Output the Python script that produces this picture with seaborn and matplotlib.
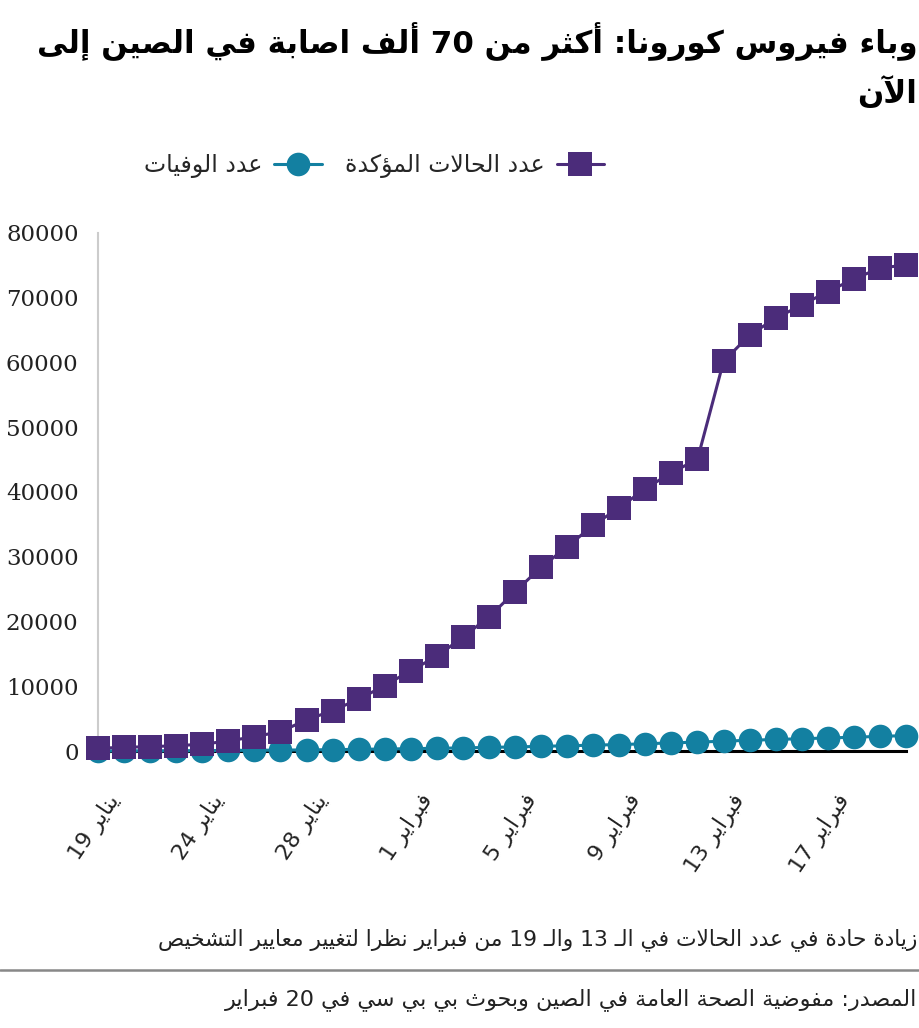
import re
import matplotlib
matplotlib.use('Agg')
import matplotlib.pyplot as plt
import matplotlib.transforms as mtransforms
import seaborn as sns

# ---------- data ----------
days = [19, 21, 22, 23, 24, 25, 26, 27, 28, 29, 30, 31,
        1, 2, 3, 4, 5, 6, 7, 8, 9, 10, 11, 12, 13, 14, 15, 16, 17, 18, 19, 20]
months = ['يناير'] * 12 + ['فبراير'] * 20
confirmed = [420, 570, 670, 820, 1040, 1550, 2210, 2990, 4800, 6240, 8000, 10100,
             12430, 14600, 17600, 20700, 24600, 28380, 31530, 34880, 37570, 40510,
             42990, 45050, 60170, 64240, 66830, 68890, 70940, 72910, 74570, 75080]
deaths = [10, 20, 30, 45, 60, 90, 110, 140, 170, 210, 260, 310,
          360, 420, 480, 560, 630, 720, 810, 900, 1000, 1110, 1260, 1370,
          1520, 1660, 1780, 1900, 2010, 2130, 2260, 2380]
tick_every = 4

label_confirmed = 'عدد الحالات المؤكدة'
label_deaths = 'عدد الوفيات'
title_1 = 'وباء فيروس كورونا: أكثر من 70 ألف اصابة في الصين إلى'
title_2 = 'الآن'
note = 'زيادة حادة في عدد الحالات في الـ 13 والـ 19 من فبراير نظرا لتغيير معايير التشخيص'
source = 'المصدر: مفوضية الصحة العامة في الصين وبحوث بي بي سي في 20 فبراير'

PURPLE = '#4B2C7A'
TEAL = '#1380A1'

# ---------- tiny arabic shaping (matplotlib has no complex text layout) ----------
_table = [
    (0x621, 0xFE80, 1), (0x622, 0xFE81, 2), (0x623, 0xFE83, 2), (0x624, 0xFE85, 2),
    (0x625, 0xFE87, 2), (0x626, 0xFE89, 4), (0x627, 0xFE8D, 2), (0x628, 0xFE8F, 4),
    (0x629, 0xFE93, 2), (0x62A, 0xFE95, 4), (0x62B, 0xFE99, 4), (0x62C, 0xFE9D, 4),
    (0x62D, 0xFEA1, 4), (0x62E, 0xFEA5, 4), (0x62F, 0xFEA9, 2), (0x630, 0xFEAB, 2),
    (0x631, 0xFEAD, 2), (0x632, 0xFEAF, 2), (0x633, 0xFEB1, 4), (0x634, 0xFEB5, 4),
    (0x635, 0xFEB9, 4), (0x636, 0xFEBD, 4), (0x637, 0xFEC1, 4), (0x638, 0xFEC5, 4),
    (0x639, 0xFEC9, 4), (0x63A, 0xFECD, 4), (0x641, 0xFED1, 4), (0x642, 0xFED5, 4),
    (0x643, 0xFED9, 4), (0x644, 0xFEDD, 4), (0x645, 0xFEE1, 4), (0x646, 0xFEE5, 4),
    (0x647, 0xFEE9, 4), (0x648, 0xFEED, 2), (0x649, 0xFEEF, 2), (0x64A, 0xFEF1, 4),
]
FORMS = {chr(c): [chr(s + k) for k in range(n)] for c, s, n in _table}
LAMALEF = {'\u0622': 0xFEF5, '\u0623': 0xFEF7, '\u0625': 0xFEF9, '\u0627': 0xFEFB}
TATWEEL = '\u0640'


def _dual(c):
    return c == TATWEEL or (c in FORMS and len(FORMS[c]) == 4)


def _joinable(c):
    return c == TATWEEL or (c in FORMS and c != '\u0621')


def shape(s):
    out = []
    prev = False
    i = 0
    while i < len(s):
        c = s[i]
        nxt = s[i + 1] if i + 1 < len(s) else ''
        if c == '\u0644' and nxt in LAMALEF:
            out.append(chr(LAMALEF[nxt] + (1 if prev else 0)))
            prev = False
            i += 2
            continue
        if c in FORMS:
            f = FORMS[c]
            fwd = _dual(c) and _joinable(nxt)
            if len(f) == 1:
                g = f[0]
            elif prev and fwd:
                g = f[3]
            elif prev:
                g = f[1]
            elif fwd:
                g = f[2]
            else:
                g = f[0]
            out.append(g)
            prev = _dual(c)
        else:
            out.append(c)
            prev = c == TATWEEL
        i += 1
    return ''.join(out)


def ar(text):
    tokens = re.findall(r'[0-9A-Za-z]+|[^0-9A-Za-z]+', text)
    res = []
    for t in reversed(tokens):
        if t[0].isascii() and t[0].isalnum():
            res.append(t)
        else:
            res.append(shape(t)[::-1])
    return ''.join(res)


# ---------- plot ----------
sns.set_style('white')
plt.rcParams['font.family'] = ['DejaVu Sans']

fig = plt.figure(figsize=(9.2, 10.28), dpi=100)
ax = fig.add_axes([98 / 920, 1 - 751 / 1028, (906 - 98) / 920, (751 - 233) / 1028])

x = list(range(len(confirmed)))
sns.lineplot(x=x, y=deaths, ax=ax, color=TEAL, marker='o', markersize=17,
             markeredgewidth=0, linewidth=2.2, clip_on=False, zorder=3, label=ar(label_deaths))
sns.lineplot(x=x, y=confirmed, ax=ax, color=PURPLE, marker='s', markersize=17,
             markeredgewidth=0, linewidth=2.2, clip_on=False, zorder=4, label=ar(label_confirmed))

ax.set_xlim(0, len(confirmed) - 1)
ax.set_ylim(0, 80000)
ax.tick_params(axis='y', length=0, pad=14)
ax.tick_params(axis='x', length=0, pad=14)
ax.set_yticks(range(0, 80001, 10000))
ax.set_yticklabels([str(v) for v in range(0, 80001, 10000)], family='DejaVu Serif',
                   fontsize=16.5, color='#222222')
ticks = x[::tick_every]
ax.set_xticks(ticks)
ax.set_xticklabels([f'{days[i]} ' + ar(months[i]) for i in ticks], rotation=56,
                   ha='right', va='center', rotation_mode='anchor', fontsize=16,
                   color='#222222')
offset = mtransforms.ScaledTranslation(17 / 100, -26 / 100, fig.dpi_scale_trans)
for lab in ax.get_xticklabels():
    lab.set_transform(lab.get_transform() + offset)
ax.set_xlabel('')
ax.set_ylabel('')

for side in ['top', 'right']:
    ax.spines[side].set_visible(False)
ax.spines['left'].set_color('#cccccc')
ax.spines['left'].set_linewidth(1.5)
ax.spines['bottom'].set_color('black')
ax.spines['bottom'].set_linewidth(2.2)
ax.spines['bottom'].set_zorder(2)

h, l = ax.get_legend_handles_labels()
ax.legend(h, l, loc='center', bbox_to_anchor=(374 / 920, 1 - 166 / 1028),
          bbox_transform=fig.transFigure, ncol=2, frameon=False, markerfirst=False,
          fontsize=17, handlelength=2.0, columnspacing=1.0, handletextpad=0.5)

fig.text(0.997, 1 - 42 / 1028, ar(title_1), ha='right', va='center',
         fontsize=22.2, fontweight='bold', color='black')
fig.text(0.997, 1 - 92 / 1028, ar(title_2), ha='right', va='center',
         fontsize=22.2, fontweight='bold', color='black')
fig.text(0.997, 1 - 940 / 1028, ar(note), ha='right', va='center', fontsize=15.7,
         color='#222222')
fig.add_artist(plt.Line2D([0, 1], [1 - 970 / 1028] * 2, transform=fig.transFigure,
                          color='#888888', linewidth=1.8))
fig.text(0.997, 1 - 1000 / 1028, ar(source), ha='right', va='center', fontsize=16,
         color='#222222')

fig.savefig('out.png', dpi=100)
